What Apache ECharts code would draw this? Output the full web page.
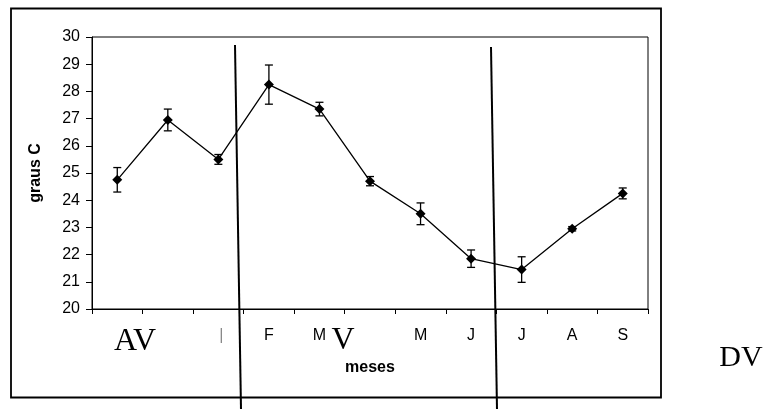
<!DOCTYPE html>
<html>
<head>
<meta charset="utf-8">
<style>html,body{margin:0;padding:0;background:#fff;}#c{width:768px;height:409px;}</style>
<script src="https://cdn.jsdelivr.net/npm/echarts@6/dist/echarts.min.js"></script>
</head>
<body>
<div id="c"></div>
<script>
var categories = ["", "", "|", "F", "M", "", "M", "J", "J", "A", "S"];
var temps = [24.75, 26.95, 25.5, 28.25, 27.35, 24.7, 23.5, 21.85, 21.45, 22.95, 24.25];
var errs = [0.45, 0.4, 0.18, 0.72, 0.25, 0.17, 0.4, 0.32, 0.47, 0.08, 0.2];
var yTicks = [20, 21, 22, 23, 24, 25, 26, 27, 28, 29, 30];

var errData = temps.map(function (v, i) { return [i, v - errs[i], v + errs[i]]; });

var chart = echarts.init(document.getElementById('c'), null, {renderer: 'canvas'});
var font = 'Liberation Sans, Arial, sans-serif';
var serif = 'Liberation Serif, Times New Roman, serif';
chart.setOption({
  animation: false,
  backgroundColor: '#fff',
  grid: {left: 92, top: 37, right: 120, bottom: 100, show: true, borderColor: '#000', borderWidth: 1},
  xAxis: {
    type: 'category',
    data: categories,
    boundaryGap: true,
    name: 'meses',
    nameLocation: 'middle',
    nameGap: 51,
    nameTextStyle: {fontFamily: font, fontWeight: 'bold', fontSize: 16, color: '#000'},
    axisLine: {lineStyle: {color: '#000', width: 1}},
    axisTick: {show: true, length: 5, lineStyle: {color: '#000'}},
    axisLabel: {
      fontFamily: font, fontSize: 16, color: '#000', margin: 19, interval: 0,
      formatter: function (v) { return v === '|' ? '{g|' + v + '}' : v; },
      rich: {g: {color: '#888', fontFamily: font, fontSize: 16, padding: [0, 0, 0, 6]}}
    },
    splitLine: {show: false}
  },
  yAxis: {
    type: 'value',
    min: yTicks[0],
    max: yTicks[yTicks.length - 1],
    interval: 1,
    name: 'graus C',
    nameLocation: 'middle',
    nameGap: 48,
    nameRotate: 90,
    nameTextStyle: {fontFamily: font, fontWeight: 'bold', fontSize: 16, color: '#000'},
    axisLine: {show: true, lineStyle: {color: '#000', width: 1}},
    axisTick: {show: true, length: 6, lineStyle: {color: '#000'}},
    axisLabel: {fontFamily: font, fontSize: 16, color: '#000', margin: 12},
    splitLine: {show: false}
  },
  series: [
    {
      type: 'custom',
      data: errData,
      z: 3,
      renderItem: function (params, api) {
        var x = api.value(0);
        var lo = api.coord([x, api.value(1)]);
        var hi = api.coord([x, api.value(2)]);
        var hw = 4;
        var st = {stroke: '#000', lineWidth: 1.3};
        return {
          type: 'group',
          children: [
            {type: 'line', shape: {x1: hi[0], y1: hi[1], x2: lo[0], y2: lo[1]}, style: st},
            {type: 'line', shape: {x1: hi[0] - hw, y1: hi[1], x2: hi[0] + hw, y2: hi[1]}, style: st},
            {type: 'line', shape: {x1: lo[0] - hw, y1: lo[1], x2: lo[0] + hw, y2: lo[1]}, style: st}
          ]
        };
      }
    },
    {
      type: 'line',
      data: temps,
      z: 4,
      symbol: 'diamond',
      symbolSize: 10,
      itemStyle: {color: '#000'},
      lineStyle: {color: '#000', width: 1.3}
    }
  ],
  graphic: [
    {type: 'rect', shape: {x: 11, y: 8.5, width: 650, height: 389}, style: {fill: 'none', stroke: '#000', lineWidth: 1.8}, z: 100},
    {type: 'line', shape: {x1: 235, y1: 45, x2: 241, y2: 409}, style: {stroke: '#000', lineWidth: 2}, z: 100},
    {type: 'line', shape: {x1: 491, y1: 47, x2: 497, y2: 409}, style: {stroke: '#000', lineWidth: 2}, z: 100},
    {type: 'text', x: 135, y: 342, style: {text: 'AV', font: '32px ' + serif, fill: '#000', textAlign: 'center', textVerticalAlign: 'middle'}, z: 100},
    {type: 'text', x: 343, y: 341, style: {text: 'V', font: '32px ' + serif, fill: '#000', textAlign: 'center', textVerticalAlign: 'middle'}, z: 100},
    {type: 'text', x: 741, y: 358, style: {text: 'DV', font: '30px ' + serif, fill: '#000', textAlign: 'center', textVerticalAlign: 'middle'}, z: 100}
  ]
});
</script>
</body>
</html>
